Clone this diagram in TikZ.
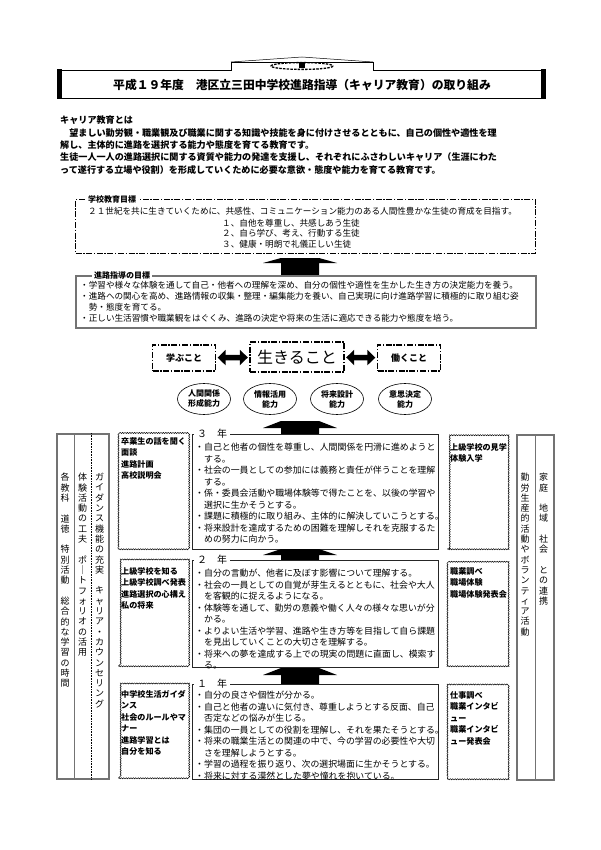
\documentclass[tikz,border=0pt]{standalone}
\usepackage{fontspec}
\setmainfont{Noto Sans CJK JP}
\usetikzlibrary{decorations.pathmorphing,arrows.meta,shapes.geometric}
\newcommand{\fsz}[2]{\fontsize{#1}{#2}\selectfont}
\newcommand{\blockuparrow}[4]{\fill (#1-37,#3) -- (#1-19,#2) -- (#1+19,#2) -- (#1+37,#3) -- (#1+19,#3) -- (#1+19,#4) -- (#1-19,#4) -- (#1-19,#3) -- cycle;}
\begin{document}
\begin{tikzpicture}[x=1pt,y=-1pt,
  txt/.style={inner sep=0pt, align=left, anchor=north west},
  dashdot/.style={draw, line width=1.3pt, dash pattern=on 6pt off 1.6pt on 1.4pt off 1.6pt},
  graybox/.style={draw=black!55, line width=1.5pt},
  yearbox/.style={draw=black!85, line width=0.9pt},
  wavy/.style={draw, line width=0.5pt, decorate, decoration={snake, amplitude=0.55pt, segment length=2.4pt}},
  boxlab/.style={fill=white, inner xsep=2pt, inner ysep=1pt, anchor=west, font=\fsz{8}{9}\bfseries},
  yearlab/.style={fill=white, inner xsep=3pt, inner ysep=1pt, anchor=west, font=\fsz{10}{11}},
  vcol/.style={inner sep=0pt, align=center, anchor=north, font=\fsz{9}{10.3}},
  ell/.style={draw, ellipse, line width=0.6pt, inner sep=0pt, minimum width=53pt, minimum height=31pt, align=center, font=\fsz{8}{10}\bfseries},
  dbl/.style={line width=5.5pt, {Triangle[length=8pt,width=15pt]}-{Triangle[length=8pt,width=15pt]}, shorten >=1.5pt, shorten <=1.5pt},
  body/.style={txt, font=\fsz{8.9}{11.5}},
  small/.style={txt, font=\fsz{8.1}{11.5}\bfseries}
]
\useasboundingbox (0,0) rectangle (600,850);

% ---------- title ----------
\draw[line width=0.7pt] (60,70) -- (231,70) -- (231,62) -- (373,62) -- (373,70) -- (543,70) -- (543,98) -- (60,98) -- cycle;
\fill (57,69) rectangle (62,99);
\fill (541,69) rectangle (546,99);
\draw[line width=0.5pt] (231,62) -- (302,57) -- (373,62);
\draw[line width=1.3pt, dash pattern=on 2.5pt off 1.2pt] (302,66) ellipse (31 and 3.4);
\fill (299,63.5) rectangle (305,68);
\node[font=\fsz{11.8}{13}\bfseries, inner sep=0pt] (title) at (302,85) {平成１９年度　港区立三田中学校進路指導（キャリア教育）の取り組み};

% ---------- intro ----------
\node[txt, font=\fsz{9.1}{12.3}\bfseries] (intro) at (60,116) {キャリア教育とは\\
　望ましい勤労観・職業観及び職業に関する知識や技能を身に付けさせるとともに、自己の個性や適性を理\\
解し、主体的に進路を選択する能力や態度を育てる教育です。\\
生徒一人一人の進路選択に関する資質や能力の発達を支援し、それぞれにふさわしいキャリア（生涯にわた\\
って遂行する立場や役割）を形成していくために必要な意欲・態度や能力を育てる教育です。};

% ---------- school goals ----------
\node[dashdot, anchor=north west, minimum width=460pt, minimum height=54pt] (goalbox) at (75,199) {};
\node[boxlab] (goallab) at (86,199) {学校教育目標};
\node[txt, font=\fsz{8.6}{11}] (goal1) at (88,207) {２１世紀を共に生きていくために、共感性、コミュニケーション能力のある人間性豊かな生徒の育成を目指す。};
\node[txt, font=\fsz{8.6}{10.5}] (goal2) at (222,219) {１、自他を尊重し、共感しあう生徒\\２、自ら学び、考え、行動する生徒\\３、健康・明朗で礼儀正しい生徒};

\blockuparrow{300}{258}{263}{275}

% ---------- guidance goals ----------
\node[graybox, anchor=north west, minimum width=460pt, minimum height=52pt] (guidebox) at (75,275) {};
\node[boxlab] (guidelab) at (92,275) {進路指導の目標};
\node[txt, font=\fsz{8.6}{11.1}] (guide) at (80,281) {・学習や様々な体験を通して自己・他者への理解を深め、自分の個性や適性を生かした生き方の決定能力を養う。\\
・進路への関心を高め、進路情報の収集・整理・編集能力を養い、自己実現に向け進路学習に積極的に取り組む姿\\
　勢・態度を育てる。\\
・正しい生活習慣や職業観をはぐくみ、進路の決定や将来の生活に適応できる能力や態度を培う。};

% ---------- three boxes ----------
\node[dashdot, minimum width=63pt, minimum height=26pt, inner sep=0pt, font=\fsz{9}{10}\bfseries] (manabu) at (184,358) {学ぶこと};
\node[dashdot, minimum width=94pt, minimum height=30pt, inner sep=0pt, font=\fsz{16}{18}] (ikiru) at (297,357) {生きること};
\node[dashdot, minimum width=63pt, minimum height=26pt, inner sep=0pt, font=\fsz{9}{10}\bfseries] (hataraku) at (409,358) {働くこと};
\draw[dbl] (manabu) -- (ikiru);
\draw[dbl] (ikiru) -- (hataraku);

\node[ell] (e1) at (204,399) {人間関係\\形成能力};
\node[ell] (e2) at (270,399) {情報活用\\能力};
\node[ell] (e3) at (337,399) {将来設計\\能力};
\node[ell] (e4) at (405,399) {意思決定\\能力};

\blockuparrow{300}{421}{428}{434}

% ---------- left column box ----------
\node[graybox, anchor=north west, minimum width=52pt, minimum height=345pt] (leftbox) at (56,433) {};
\draw[graybox, line width=1pt] (leftbox.north) ++(-8,0) coordinate (ls1) -- (ls1 |- leftbox.south);
\draw[densely dotted, line width=0.6pt] (leftbox.north) ++(9,0) coordinate (ls2) -- (ls2 |- leftbox.south);
\node[vcol] (vc1) at (65,473) {各\\教\\科\\　\\道\\徳\\　\\特\\別\\活\\動\\　\\総\\合\\的\\な\\学\\習\\の\\時\\間};
\node[vcol] (vc2) at (82.5,473) {体\\験\\活\\動\\の\\工\\夫\\　\\ポ\\｜\\ト\\フ\\ォ\\リ\\オ\\の\\活\\用};
\node[vcol] (vc3) at (99.5,473) {ガ\\イ\\ダ\\ン\\ス\\機\\能\\の\\充\\実\\　\\キ\\ャ\\リ\\ア\\・\\カ\\ウ\\ン\\セ\\リ\\ン\\グ};

% ---------- right column box ----------
\node[graybox, anchor=north west, minimum width=37pt, minimum height=345pt] (rightbox) at (516,434) {};
\draw[graybox, line width=1pt] (rightbox.north) coordinate (rs1) -- (rs1 |- rightbox.south);
\node[vcol] (vr1) at (525,473) {勤\\労\\生\\産\\的\\活\\動\\や\\ボ\\ラ\\ン\\テ\\ィ\\ア\\活\\動};
\node[vcol] (vr2) at (543.5,473) {家\\庭\\　\\地\\域\\　\\社\\会\\　\\と\\の\\連\\携};

% ---------- 3rd year ----------
\node[wavy, anchor=north west, minimum width=70pt, minimum height=115pt] (l3) at (118,434) {};
\node[small] (l3t) at (121,437) {卒業生の話を聞く\\面談\\進路計画\\高校説明会};
\node[yearbox, anchor=north west, minimum width=246pt, minimum height=115pt] (y3) at (192,434) {};
\node[yearlab] (y3lab) at (194,434) {３　年};
\node[body] (y3t) at (195,443) {・自己と他者の個性を尊重し、人間関係を円滑に進めようと\\
　する。\\
・社会の一員としての参加には義務と責任が伴うことを理解\\
　する。\\
・係・委員会活動や職場体験等で得たことを、以後の学習や\\
　選択に生かそうとする。\\
・課題に積極的に取り組み、主体的に解決していこうとする。\\
・将来設計を達成するための困難を理解しそれを克服するた\\
　めの努力に向かう。};
\node[wavy, anchor=north west, minimum width=61pt, minimum height=115pt] (r3) at (447,434) {};
\node[small] (r3t) at (450,443) {上級学校の見学\\体験入学};

\blockuparrow{300}{549}{555}{560}

% ---------- 2nd year ----------
\node[wavy, anchor=north west, minimum width=70pt, minimum height=106pt] (l2) at (118,560) {};
\node[small] (l2t) at (121,567) {上級学校を知る\\上級学校調べ発表\\進路選択の心構え\\私の将来};
\node[yearbox, anchor=north west, minimum width=246pt, minimum height=107pt] (y2) at (192,560) {};
\node[yearlab] (y2lab) at (194,560) {２　年};
\node[body] (y2t) at (195,569) {・自分の言動が、他者に及ぼす影響について理解する。\\
・社会の一員としての自覚が芽生えるとともに、社会や大人\\
　を客観的に捉えるようになる。\\
・体験等を通して、勤労の意義や働く人々の様々な思いが分\\
　かる。\\
・よりよい生活や学習、進路や生き方等を目指して自ら課題\\
　を見出していくことの大切さを理解する。\\
・将来への夢を達成する上での現実の問題に直面し、模索す\\
　る。};
\node[wavy, anchor=north west, minimum width=61pt, minimum height=106pt] (r2) at (447,560) {};
\node[small] (r2t) at (450,567) {職業調べ\\職場体験\\職場体験発表会};

\blockuparrow{300}{668}{675}{684}

% ---------- 1st year ----------
\node[wavy, anchor=north west, minimum width=70pt, minimum height=94pt] (l1) at (118,684) {};
\node[small] (l1t) at (121,690) {中学校生活ガイダ\\ンス\\社会のルールやマ\\ナー\\進路学習とは\\自分を知る};
\node[yearbox, anchor=north west, minimum width=246pt, minimum height=95pt] (y1) at (192,684) {};
\node[yearlab] (y1lab) at (194,684) {１　年};
\node[body] (y1t) at (195,691) {・自分の良さや個性が分かる。\\
・自己と他者の違いに気付き、尊重しようとする反面、自己\\
　否定などの悩みが生じる。\\
・集団の一員としての役割を理解し、それを果たそうとする。\\
・将来の職業生活との関連の中で、今の学習の必要性や大切\\
　さを理解しようとする。\\
・学習の過程を振り返り、次の選択場面に生かそうとする。\\
・将来に対する漠然とした夢や憧れを抱いている。};
\node[wavy, anchor=north west, minimum width=61pt, minimum height=95pt] (r1) at (447,684) {};
\node[small] (r1t) at (450,691) {仕事調べ\\職業インタビ\\ュー\\職業インタビ\\ュー発表会};
\end{tikzpicture}
\end{document}
